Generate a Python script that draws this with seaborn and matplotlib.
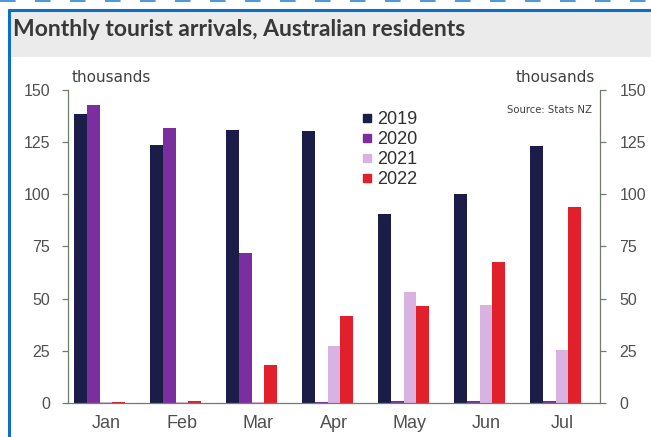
import matplotlib
matplotlib.use("Agg")
import matplotlib.pyplot as plt
from matplotlib.lines import Line2D
from matplotlib.patches import Rectangle
import numpy as np
import pandas as pd
import seaborn as sns

# Monthly arrivals of Australian residents (thousands)
months = ["Jan", "Feb", "Mar", "Apr", "May", "Jun", "Jul"]
years = ["2019", "2020", "2021", "2022"]
arrivals_2019 = [138.5, 123.6, 131.0, 130.3, 90.6, 100.1, 123.3]
arrivals_2020 = [142.8, 131.8, 71.9, 0.6, 0.8, 0.8, 0.8]
arrivals_2021 = [0.6, 0.4, 0.5, 27.5, 53.2, 46.8, 25.4]
arrivals_2022 = [0.6, 1.0, 18.2, 41.8, 46.6, 67.6, 94.1]
yticks = [0, 25, 50, 75, 100, 125, 150]

palette = {"2019": "#1c1c48", "2020": "#7b2f9e", "2021": "#d8b3e2", "2022": "#e1202b"}

df = pd.DataFrame({
    "month": months * 4,
    "year": [y for y in years for _ in months],
    "value": arrivals_2019 + arrivals_2020 + arrivals_2021 + arrivals_2022,
})

sns.set_style("white")
plt.rcParams["font.family"] = ["Liberation Sans", "DejaVu Sans"]

W, H = 651, 437
fig = plt.figure(figsize=(W / 100, H / 100), dpi=100)
fig.patch.set_facecolor("white")

# header band and frame
fig.patches.append(Rectangle((10 / W, 1 - 57 / H), 1, 46 / H, transform=fig.transFigure,
                             facecolor="#ebebeb", edgecolor="none", zorder=0))
fig.add_artist(Line2D([8.5 / W, 8.5 / W], [0, 1 - 9.5 / H], transform=fig.transFigure,
                      color="#0b6fc4", lw=2.2))
fig.add_artist(Line2D([8.5 / W, 1], [1 - 10 / H, 1 - 10 / H], transform=fig.transFigure,
                      color="#0b6fc4", lw=2.2))
fig.add_artist(Line2D([0, 1], [1 - 1 / H, 1 - 1 / H], transform=fig.transFigure,
                      color="#4a98dc", lw=1.4, dashes=(8, 10)))

fig.text(13 / W, 1 - 29 / H, "Monthly tourist arrivals, Australian residents",
         fontsize=16.5, color="#383838", va="center", ha="left",
         family=["Lato", "DejaVu Sans"], fontweight="bold")

ax = fig.add_axes([68 / W, 1 - 403 / H, (600 - 68) / W, (403 - 90) / H])
sns.barplot(data=df, x="month", y="value", hue="year", palette=palette,
            width=0.68, linewidth=0, saturation=1, ax=ax, legend=False)

# bars sit slightly left of each month's centre
for p in ax.patches:
    p.set_x(p.get_x() - 0.085)

ax.set_xlim(-0.5, 6.5)
ax.set_ylim(0, 150)
ax.set_yticks(yticks)
ax.set_xlabel("")
ax.set_ylabel("")

spine_col = "#6f7f6f"
label_col = "#505050"
for s in ["top", "right"]:
    ax.spines[s].set_visible(False)
for s in ["left", "bottom"]:
    ax.spines[s].set_color(spine_col)
    ax.spines[s].set_linewidth(0.9)

ax.set_xticks(range(len(months)))
ax.set_xticklabels(months)
ax.set_xticks(np.arange(0.5, 6.0, 1.0), minor=True)
ax.tick_params(axis="x", which="major", length=0, pad=9, labelsize=13, labelcolor=label_col)
ax.tick_params(axis="x", which="minor", length=4, color=spine_col, direction="out", width=0.9)
ax.tick_params(axis="y", left=True, length=4, color=spine_col, width=0.9,
               direction="out", labelsize=11.5, labelcolor=label_col, pad=9)

ax2 = ax.twinx()
ax2.set_ylim(0, 150)
ax2.set_yticks(yticks)
for s in ["top", "left", "bottom"]:
    ax2.spines[s].set_visible(False)
ax2.spines["right"].set_color(spine_col)
ax2.spines["right"].set_linewidth(0.9)
ax2.tick_params(axis="y", right=True, length=4, color=spine_col, width=0.9,
                direction="out", labelsize=11.5, labelcolor=label_col, pad=10)

fig.text(72 / W, 1 - 78 / H, "thousands", fontsize=11, color="#404040", va="center",
         ha="left", family=["DejaVu Sans"])
fig.text(595 / W, 1 - 78 / H, "thousands", fontsize=11, color="#404040", va="center",
         ha="right", family=["DejaVu Sans"])
fig.text(592 / W, 1 - 110 / H, "Source: Stats NZ", fontsize=7.3, color="#404040",
         va="center", ha="right", family=["DejaVu Sans"])

handles = [Line2D([], [], marker="s", linestyle="none", markersize=6,
                  markerfacecolor=palette[y], markeredgecolor=palette[y]) for y in years]
fig.legend(handles, years, loc="upper left", bbox_to_anchor=(362 / W, 1 - 111 / H),
           frameon=False, fontsize=13, handlelength=0.6, handletextpad=0.25,
           labelspacing=0.17, labelcolor="#303030", borderaxespad=0, borderpad=0)

fig.savefig("out.png", dpi=100)
